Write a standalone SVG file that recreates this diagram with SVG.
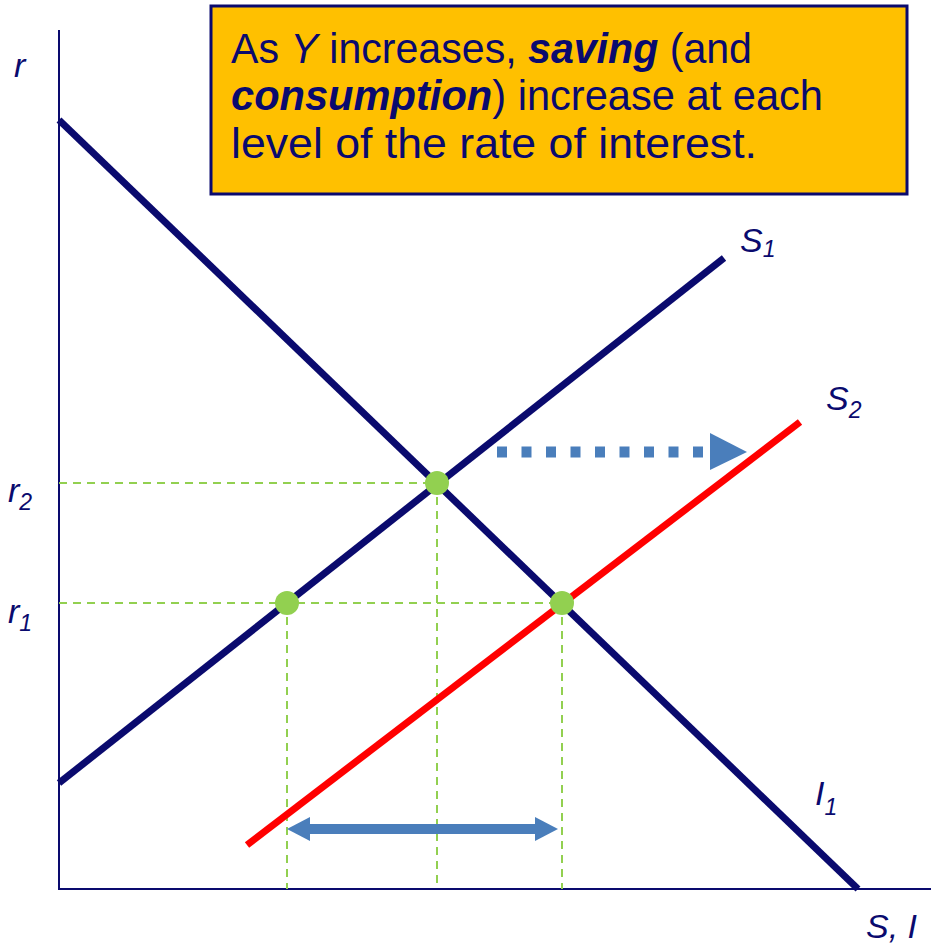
<svg xmlns="http://www.w3.org/2000/svg" width="931" height="947" viewBox="0 0 931 947">
<style>
.axis{stroke:#0A0A6E;stroke-width:2;fill:none}
.curve{stroke:#0A0A6E;stroke-width:7;fill:none}
.red{stroke:#FF0000;stroke-width:7;fill:none}
.guide{stroke:#92D050;stroke-width:2;stroke-dasharray:8 6;fill:none}
.dot{fill:#92D050}
.lbl{font-family:"Liberation Sans",Arial,sans-serif;font-style:italic;font-size:34px;fill:#0A0A6E}
.sub{font-size:23px}
.box{font-family:"Liberation Sans",Arial,sans-serif;font-size:43px;fill:#0A0A6E}
.it{font-style:italic}
.bi{font-style:italic;font-weight:bold}
</style>
<rect width="931" height="947" fill="#FFFFFF"/>
<g id="axes">
<line class="axis" x1="59" y1="30" x2="59" y2="889"/>
<line class="axis" x1="58" y1="889" x2="931" y2="889"/>
</g>
<g id="guides">
<line class="guide" x1="59" y1="483" x2="437" y2="483"/>
<line class="guide" x1="59" y1="603" x2="562" y2="603"/>
<line class="guide" x1="287" y1="603" x2="287" y2="889"/>
<line class="guide" x1="437" y1="483" x2="437" y2="889"/>
<line class="guide" x1="562" y1="603" x2="562" y2="889"/>
</g>
<g id="curves">
<line id="I1" class="curve" x1="59" y1="120" x2="858" y2="889"/>
<line id="S1" class="curve" x1="59" y1="783" x2="724" y2="258"/>
<line id="S2" class="red" x1="247" y1="845" x2="800" y2="422"/>
</g>
<g id="points">
<circle class="dot" cx="437" cy="483" r="12"/>
<circle class="dot" cx="287" cy="603" r="12"/>
<circle class="dot" cx="562" cy="603" r="12"/>
</g>
<g id="connectors">
<line x1="497" y1="452" x2="708" y2="452" stroke="#4A7EBB" stroke-width="11" stroke-dasharray="10 14.5"/>
<polygon points="710,433 747,452 710,470" fill="#4A7EBB"/>
<line x1="305" y1="829" x2="540" y2="829" stroke="#4A7EBB" stroke-width="10"/>
<polygon points="287,829 310,817 310,841" fill="#4A7EBB"/>
<polygon points="558,829 535,817 535,841" fill="#4A7EBB"/>
</g>
<g id="note">
<rect x="211" y="6" width="696" height="188" fill="#FFC000" stroke="#0A0A6E" stroke-width="3"/>
<text class="box" x="231" y="63" textLength="521" lengthAdjust="spacingAndGlyphs">As <tspan class="it">Y</tspan> increases, <tspan class="bi">saving</tspan> (and</text>
<text class="box" x="231" y="110" textLength="592" lengthAdjust="spacingAndGlyphs"><tspan class="bi">consumption</tspan>) increase at each</text>
<text class="box" x="231" y="158" textLength="526" lengthAdjust="spacingAndGlyphs">level of the rate of interest.</text>
</g>
<g id="labels">
<text class="lbl" x="14" y="77">r</text>
<text class="lbl" x="8" y="502">r<tspan class="sub" dy="8">2</tspan></text>
<text class="lbl" x="8" y="623">r<tspan class="sub" dy="8">1</tspan></text>
<text class="lbl" x="740" y="252">S<tspan class="sub" dy="5">1</tspan></text>
<text class="lbl" x="826" y="410">S<tspan class="sub" dy="8">2</tspan></text>
<text class="lbl" x="815" y="805">I<tspan class="sub" dy="10">1</tspan></text>
<text class="lbl" x="866" y="938">S, I</text>
</g>
</svg>
